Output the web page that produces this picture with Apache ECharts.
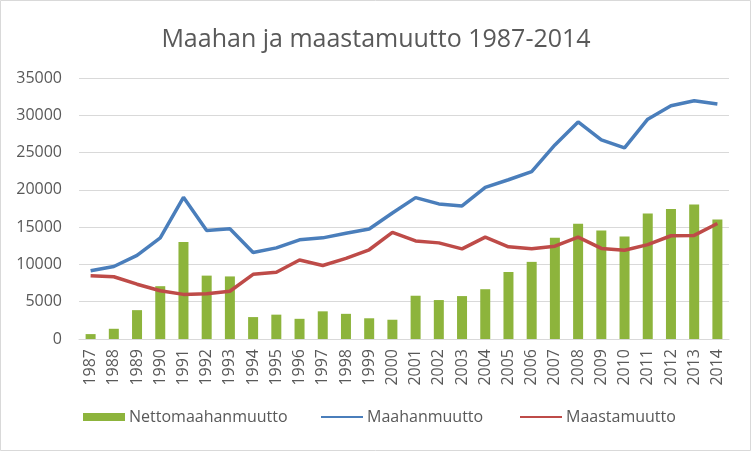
<!DOCTYPE html>
<html>
<head>
<meta charset="utf-8">
<script src="https://cdn.jsdelivr.net/npm/echarts@6/dist/echarts.min.js"></script>
<style>
    html, body { margin: 0; padding: 0; background: #fff; }
    #chart { width: 752px; height: 452px; }
</style>
</head>
<body>
<div id="chart"></div>
<script>
// vuodet 1987-2014
const years = ["1987", "1988", "1989", "1990", "1991", "1992", "1993", "1994", "1995", "1996",
    "1997", "1998", "1999", "2000", "2001", "2002", "2003", "2004", "2005", "2006",
    "2007", "2008", "2009", "2010", "2011", "2012", "2013", "2014"];
const maahanmuutto = [9142, 9720, 11219, 13558, 19001, 14554, 14795, 11611, 12222, 13294,
    13564, 14192, 14744, 16895, 18955, 18113, 17838, 20333, 21355, 22451,
    26029, 29114, 26699, 25636, 29481, 31278, 31941, 31507];
const maastamuutto = [8485, 8350, 7350, 6477, 5984, 6055, 6405, 8672, 8957, 10587,
    9854, 10817, 11966, 14311, 13153, 12891, 12083, 13656, 12369, 12107,
    12443, 13657, 12151, 11905, 12660, 13845, 13893, 15486];
const nettomaahanmuutto = [657, 1370, 3869, 7081, 13017, 8499, 8390, 2939, 3265, 2707,
    3710, 3375, 2778, 2584, 5802, 5222, 5755, 6677, 8986, 10344,
    13586, 15457, 14548, 13731, 16821, 17433, 18048, 16021];
const yTicks = [0, 5000, 10000, 15000, 20000, 25000, 30000, 35000];

const textColor = "#595959";
const font = "'Open Sans', 'Noto Sans', sans-serif";

// yksi legenda per sarja, jotta paikat osuvat kohdalleen
function legendAt(left, item) {
    return {
        left: left,
        top: 409,
        padding: 0,
        itemWidth: 42,
        itemHeight: 8,
        itemGap: 0,
        textStyle: { color: textColor, fontFamily: font, fontSize: 16, padding: [0, 0, 0, -1] },
        data: [item]
    };
}

const chart = echarts.init(document.getElementById("chart"));
const option = {
    backgroundColor: "#fff",
    animation: false,
    title: {
        text: "Maahan ja maastamuutto 1987-2014",
        left: "center",
        top: 22,
        textStyle: { color: textColor, fontFamily: font, fontSize: 25, fontWeight: "normal" }
    },
    graphic: [{
        type: "rect",
        shape: { x: 0.5, y: 0.5, width: 750, height: 450 },
        style: { fill: null, stroke: "#d9d9d9", lineWidth: 1 },
        silent: true
    }],
    legend: [
        legendAt(83, { name: "Nettomaahanmuutto", icon: "rect" }),
        legendAt(320, { name: "Maahanmuutto", itemStyle: { opacity: 0 } }),
        legendAt(519, { name: "Maastamuutto", itemStyle: { opacity: 0 } })
    ],
    grid: { left: 79, right: 23, top: 78, bottom: 113 },
    xAxis: {
        type: "category",
        data: years,
        axisLine: { lineStyle: { color: "#d9d9d9" } },
        axisTick: { show: false },
        axisLabel: { rotate: 90, color: textColor, fontFamily: font, fontSize: 16, margin: 10 }
    },
    yAxis: {
        type: "value",
        min: yTicks[0],
        max: yTicks[yTicks.length - 1],
        interval: 5000,
        axisLine: { show: false },
        axisTick: { show: false },
        splitLine: { lineStyle: { color: "#d9d9d9" } },
        axisLabel: {
            color: textColor, fontFamily: font, fontSize: 16, margin: 17,
            formatter: function(v) { return String(v); }
        }
    },
    series: [
        {
            name: "Nettomaahanmuutto",
            type: "bar",
            data: nettomaahanmuutto,
            barWidth: 10,
            itemStyle: { color: "#8db43c" }
        },
        {
            name: "Maahanmuutto",
            type: "line",
            data: maahanmuutto,
            symbol: "none",
            lineStyle: { color: "#4a7ebb", width: 3.5 },
            itemStyle: { color: "#4a7ebb" }
        },
        {
            name: "Maastamuutto",
            type: "line",
            data: maastamuutto,
            symbol: "none",
            lineStyle: { color: "#be4b48", width: 3.5 },
            itemStyle: { color: "#be4b48" }
        }
    ]
};
chart.setOption(option);
</script>
</body>
</html>
